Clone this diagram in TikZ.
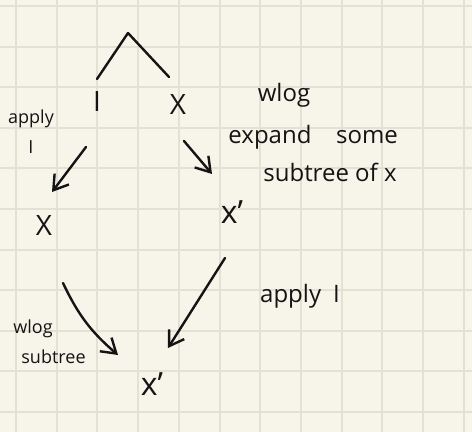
\documentclass[tikz,border=0pt]{standalone}
\usepackage{fontspec}
\setsansfont{Open Sans}
\usetikzlibrary{arrows.meta}
\definecolor{paper}{HTML}{F7F5EA}
\definecolor{gridline}{HTML}{E2E1D3}
\definecolor{ink}{HTML}{141414}

\begin{document}
\begin{tikzpicture}[x = 0.5pt, y = -0.5pt, font = \sffamily]
	\tikzstyle{termStyle} = [text = ink, inner sep = 1pt, font = {\sffamily\fontsize{14}{16}\selectfont}]
	\tikzstyle{primeStyle} = [text = ink, inner sep = 1pt, font = {\sffamily\fontsize{16}{18}\selectfont}]
	\tikzstyle{noteStyle} = [text = ink, inner sep = 0pt, font = {\sffamily\fontsize{12}{14}\selectfont}]
	\tikzstyle{smallNoteStyle} = [text = ink, inner sep = 0pt, font = {\sffamily\fontsize{9}{15}\selectfont}]
	\tikzstyle{strokeStyle} = [draw = ink, line width = 1.2pt, line cap = round, line join = round]
	\tikzstyle{flowStyle} = [strokeStyle, -{Straight Barb[length = 7pt, width = 9pt]}]
	\useasboundingbox (0,0) rectangle (472,432);
	\fill[paper] (0,0) rectangle (472,432);
	\foreach \gx in {0,...,11} \draw[gridline, line width = 1pt] (16+40.72*\gx, 0) -- (16+40.72*\gx, 432);
	\foreach \gy in {0,...,10} \draw[gridline, line width = 1pt] (0, 6+40.6*\gy) -- (472, 6+40.6*\gy);
	% tree
	\coordinate (apex) at (128, 33);
	\node[termStyle] (iTop) at (97, 102) {I};
	\node[termStyle] (xTop) at (178, 105) {X};
	\node[termStyle] (xLeft) at (44, 226) {X};
	\node[primeStyle] (xRight) at (232, 212) {x'};
	\node[primeStyle] (xBottom) at (152, 384) {x'};
	% notes
	\node[smallNoteStyle, align = center] (applyLeft) at (31, 132) {apply\\I};
	\node[noteStyle] (wlogRight) at (284, 95) {wlog};
	\node[noteStyle] (expandRight) at (270, 137) {expand};
	\node[noteStyle] (someRight) at (367, 137) {some};
	\node[noteStyle] (subtreeRight) at (330, 172) {subtree of x};
	\node[noteStyle] (applyRight) at (300, 296) {apply\enspace I};
	\node[smallNoteStyle, align = left, anchor = west] (wlogLeft) at (13, 342) {wlog\\\hspace{4pt}subtree};
	% edges
	\draw[strokeStyle] ([shift = {(0, -23)}]iTop.center) -- (apex) -- ([shift = {(-9, -28)}]xTop.center);
	\draw[flowStyle] ([shift = {(-11, 45)}]iTop.center) -- ([shift = {(8, -34)}]xLeft.center);
	\draw[flowStyle] ([shift = {(6, 36)}]xTop.center) -- ([shift = {(-20, -38)}]xRight.center);
	\draw[flowStyle] ([shift = {(-7, 46)}]xRight.center) -- ([shift = {(16, -36)}]xBottom.center);
	\draw[flowStyle] ([shift = {(19, 57)}]xLeft.center) to[bend right = 12] ([shift = {(-34, -29)}]xBottom.center);
\end{tikzpicture}
\end{document}
